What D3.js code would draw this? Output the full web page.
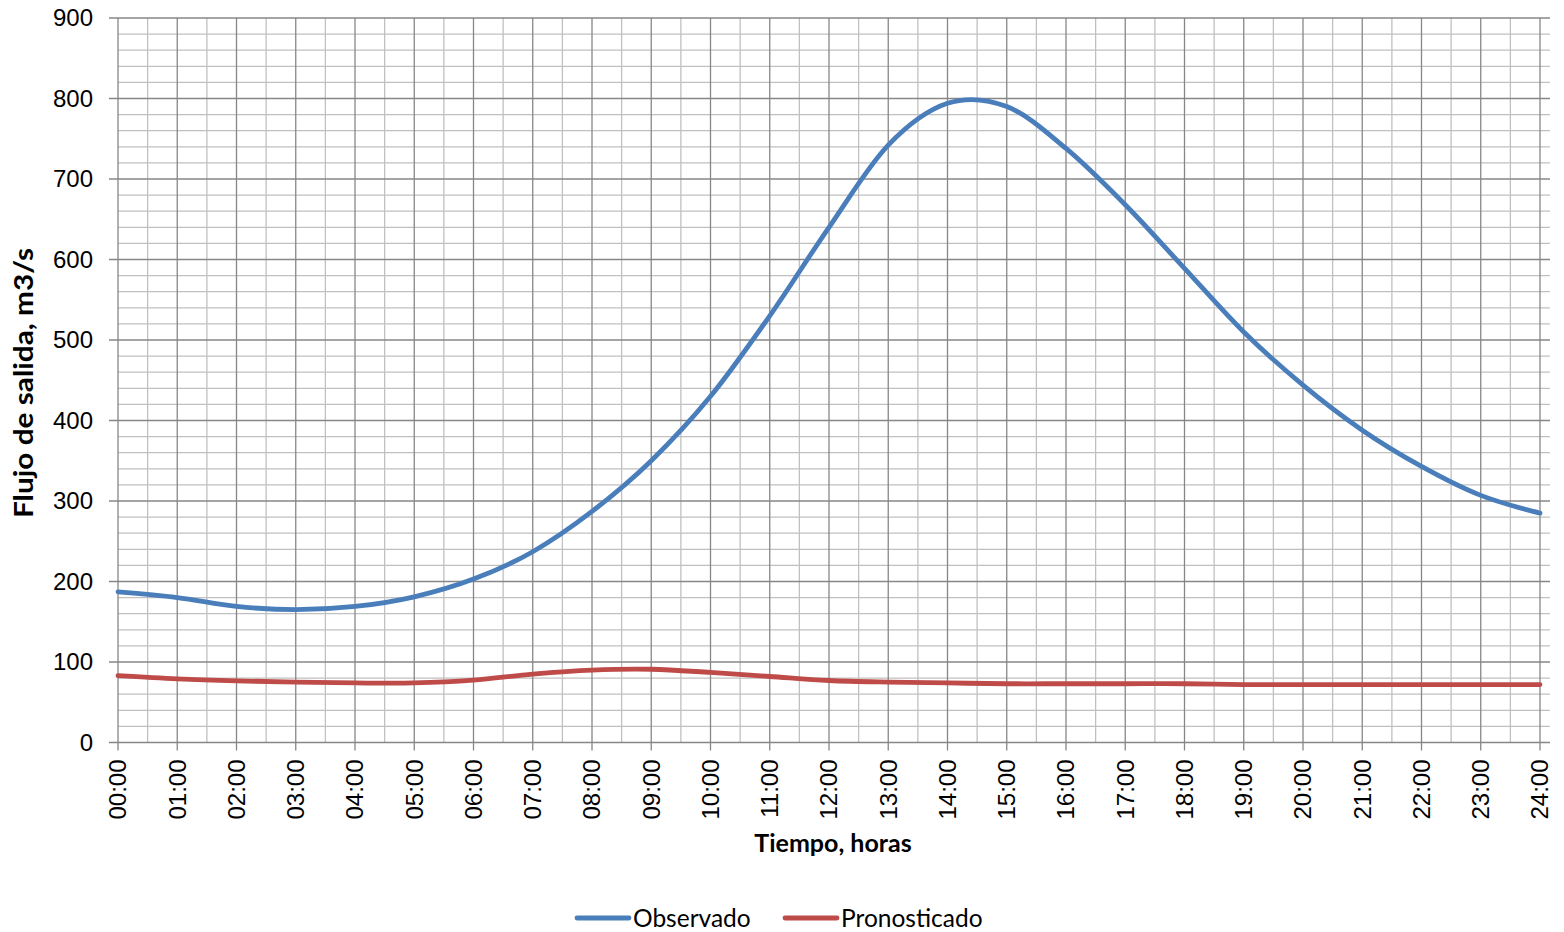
<!DOCTYPE html>
<html><head><meta charset="utf-8">
<script src="https://cdn.jsdelivr.net/npm/d3@7/dist/d3.min.js"></script>
<style>
html,body{margin:0;padding:0;background:#fff;}
svg text{font-family:Lato,"Open Sans",sans-serif;fill:#000;}
svg text.tick{font-family:"Liberation Sans",Arial,sans-serif;}
</style></head>
<body><svg id="c" width="1564" height="932"></svg>
<script>
const hours = [0,1,2,3,4,5,6,7,8,9,10,11,12,13,14,15,16,17,18,19,20,21,22,23,24];
const tickLabels = ["00:00","01:00","02:00","03:00","04:00","05:00","06:00","07:00","08:00","09:00","10:00","11:00","12:00","13:00","14:00","15:00","16:00","17:00","18:00","19:00","20:00","21:00","22:00","23:00","24:00"];
const observado = [187,180,169,165,169,181,203,237,287,350,430,530,640,742,794,790,738,668,589,510,444,388,343,307,285];
const pronosticado = [83,79,76.5,75,74,74,77.5,85,90,91,87,82,77,75,74,73,73,73,73,72,72,72,72,72,72];
const yTicks = [0,100,200,300,400,500,600,700,800,900];
const seriesNames = ["Observado","Pronosticado"];

const svg = d3.select("#c");
const L = 118, R = 1540, T = 18, B = 742.5, gridRight = 1550;
const x = d3.scaleLinear().domain([0,24]).range([L,R]);
const y = d3.scaleLinear().domain([0,900]).range([B,T]);
const colors = ["#4A7EBB","#BE4B48"];

const g = svg.append("g");
const minorY = d3.range(0, 901, 20).filter(v => v % 100 !== 0);
g.selectAll(".mh").data(minorY).join("line")
  .attr("x1", L).attr("x2", gridRight).attr("y1", d=>y(d)).attr("y2", d=>y(d))
  .attr("stroke","#c0c0c0").attr("stroke-width",1.3);
const minorX = d3.range(0.5, 24, 1);
g.selectAll(".mv").data(minorX).join("line")
  .attr("x1", d=>x(d)).attr("x2", d=>x(d)).attr("y1", T).attr("y2", B)
  .attr("stroke","#c0c0c0").attr("stroke-width",1.3);
g.selectAll(".Mh").data(yTicks).join("line")
  .attr("x1", L-9).attr("x2", gridRight).attr("y1", d=>y(d)).attr("y2", d=>y(d))
  .attr("stroke","#878787").attr("stroke-width",1.3);
g.selectAll(".Mv").data(hours).join("line")
  .attr("x1", d=>x(d)).attr("x2", d=>x(d)).attr("y1", T).attr("y2", B+8)
  .attr("stroke","#878787").attr("stroke-width",1.3);

g.selectAll(".yl").data(yTicks).join("text").attr("class","tick")
  .attr("x", L-25).attr("y", d=>y(d)).attr("dy","0.35em")
  .attr("text-anchor","end").attr("font-size",24).text(d=>d);
g.selectAll(".xl").data(hours).join("text").attr("class","tick")
  .attr("transform", (d)=>`translate(${x(d)},${B+17}) rotate(-90)`)
  .attr("text-anchor","end").attr("dy","0.35em").attr("font-size",24)
  .text((d,i)=>tickLabels[i]);

svg.append("text").attr("transform",`translate(33,383) rotate(-90)`)
  .attr("text-anchor","middle").attr("font-size",26).attr("font-weight","bold")
  .attr("textLength",270).attr("lengthAdjust","spacingAndGlyphs")
  .text("Flujo de salida, m3/s");
svg.append("text").attr("x",833).attr("y",852)
  .attr("text-anchor","middle").attr("font-size",25).attr("font-weight","bold")
  .text("Tiempo, horas");

const line = d3.line().x(d=>x(d[0])).y(d=>y(d[1])).curve(d3.curveCatmullRom.alpha(0));
[observado, pronosticado].forEach((s,i)=>{
  svg.append("path").datum(hours.map((h,j)=>[h,s[j]]))
    .attr("d", line).attr("fill","none").attr("stroke",colors[i])
    .attr("stroke-width",4.8).attr("stroke-linecap","round");
});

const lg = svg.append("g");
const legX = [577, 785];
seriesNames.forEach((n,i)=>{
  lg.append("line").attr("x1",legX[i]).attr("x2",legX[i]+52).attr("y1",918).attr("y2",918)
    .attr("stroke",colors[i]).attr("stroke-width",4.8).attr("stroke-linecap","round");
  lg.append("text").attr("x",legX[i]+56).attr("y",918).attr("dy","0.36em")
    .attr("font-size",24.5).text(n);
});
</script></body></html>
